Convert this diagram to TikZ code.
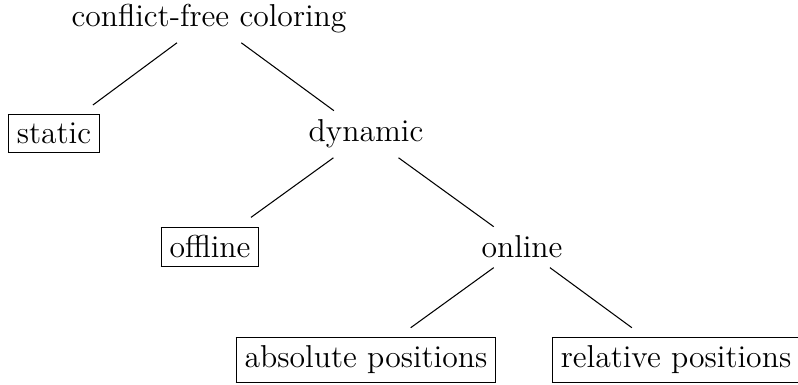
\documentclass[tikz,border=0pt]{standalone}
\begin{document}
\begin{tikzpicture}[x=0.3788pt,y=-0.3788pt,
  lbl/.style={anchor=base,font=\fontsize{12}{14.4}\selectfont},
  edge/.style={draw,line width=0.4pt}]
\useasboundingbox (0,0) rectangle (798,385);
\node[lbl] (root) at (209,27) {conflict-free coloring};
\node[lbl] (static) at (54,144) {\fbox{static}};
\node[lbl] (dynamic) at (366,142) {dynamic};
\node[lbl] (offline) at (210,258) {\fbox{offline}};
\node[lbl] (online) at (522,258) {online};
\node[lbl] (abs) at (366,368) {\fbox{absolute positions}};
\node[lbl] (rel) at (676,368) {\fbox{relative positions}};
\draw[edge] (root) -- (static);
\draw[edge] (root) -- (dynamic);
\draw[edge] (dynamic) -- (offline);
\draw[edge] (dynamic) -- (online);
\draw[edge] (online) -- (abs);
\draw[edge] (online) -- (rel);
\end{tikzpicture}
\end{document}
